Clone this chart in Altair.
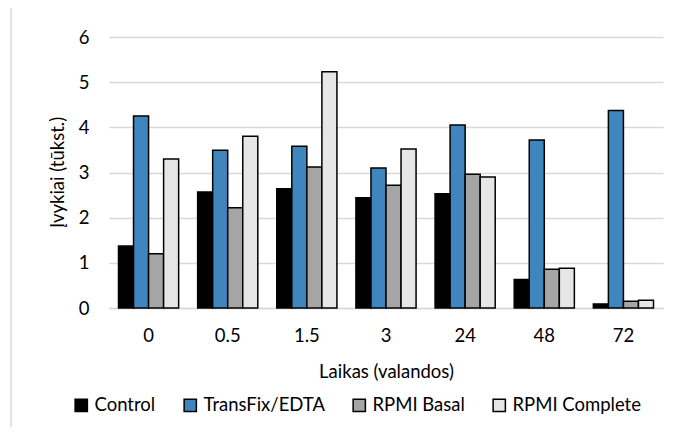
import altair as alt
import pandas as pd

hours = ["0", "0.5", "1.5", "3", "24", "48", "72"]
series = ["Control", "TransFix/EDTA", "RPMI Basal", "RPMI Complete"]
colors = ["#000000", "#3F86BE", "#A5A5A5", "#E7E6E6"]
control = [1.37, 2.57, 2.64, 2.44, 2.53, 0.63, 0.09]
transfix = [4.25, 3.49, 3.58, 3.10, 4.05, 3.72, 4.37]
basal = [1.20, 2.22, 3.12, 2.72, 2.96, 0.86, 0.15]
complete = [3.30, 3.80, 5.23, 3.52, 2.90, 0.88, 0.17]

rows = []
for s, vals in zip(series, [control, transfix, basal, complete]):
    for h, v in zip(hours, vals):
        rows.append({"hour": h, "series": s, "value": v})
df = pd.DataFrame(rows)

FONT = "Lato"
FS = 18.5

bars = alt.Chart(df).mark_bar(stroke="black", strokeWidth=1.5).encode(
    x=alt.X("hour:N", sort=hours,
            scale=alt.Scale(paddingInner=0.24, paddingOuter=0.12),
            axis=alt.Axis(title="Laikas (valandos)", labelAngle=0, tickSize=0,
                          labelPadding=18, titlePadding=18, domainColor="#D9D9D9",
                          domainWidth=1.5, grid=False)),
    xOffset=alt.XOffset("series:N", sort=series, scale=alt.Scale(paddingInner=0, paddingOuter=0)),
    y=alt.Y("value:Q", scale=alt.Scale(domain=[0, 6]),
            axis=alt.Axis(title="Įvykiai (tūkst.)", values=[0, 1, 2, 3, 4, 5, 6],
                          tickSize=0, labelPadding=20, domain=False,
                          titleX=-52, titleY=135, titleAlign="center",
                          titleBaseline="middle", titleAngle=270,
                          gridColor="#D9D9D9", gridWidth=1.5)),
    fill=alt.Fill("series:N", sort=series,
                  scale=alt.Scale(domain=series, range=colors),
                  legend=alt.Legend(title=None, orient="none", direction="horizontal",
                                    legendX=-37, legendY=359, symbolType="square",
                                    symbolSize=150, symbolStrokeColor="black",
                                    symbolStrokeWidth=1.5, columnPadding=25,
                                    labelOffset=4, labelFontSize=FS, labelFont=FONT,
                                    labelColor="black")),
)

frame = alt.Chart(pd.DataFrame({"a": [0]})).mark_rect(
    fill=None, stroke="#D9D9D9", strokeWidth=1.5
).encode(x=alt.value(-98), x2=alt.value(584), y=alt.value(-32), y2=alt.value(398))

chart = alt.layer(frame, bars).properties(
    width=554, height=271,
    autosize=alt.AutoSizeParams(type="none"),
    padding={"left": 101, "top": 29, "right": 26, "bottom": 119},
).configure_view(stroke=None).configure_axis(
    labelFont=FONT, titleFont=FONT, labelFontSize=FS, titleFontSize=FS,
    labelColor="black", titleColor="black", titleFontWeight="normal"
)

chart.save("out.html", embed_options={"renderer": "svg", "actions": False})
